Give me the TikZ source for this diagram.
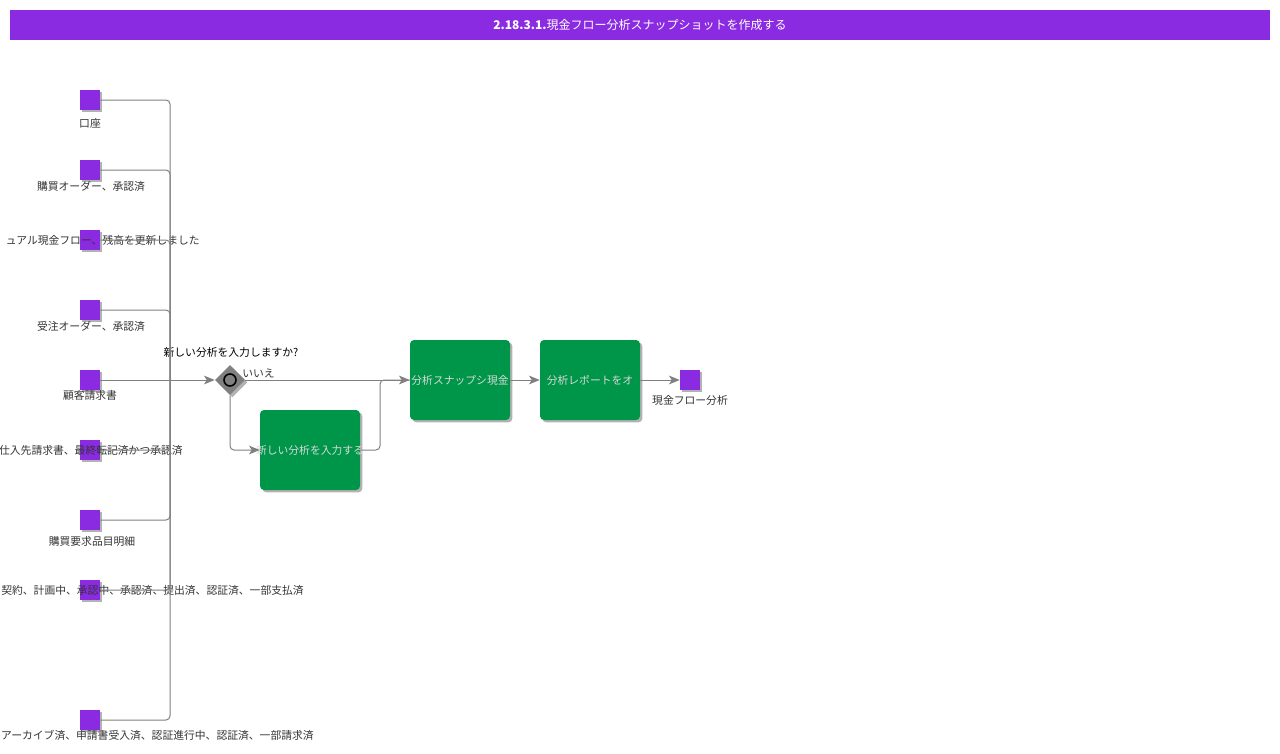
\documentclass[tikz,border=0pt]{standalone}
\usepackage{fontspec}
\setmainfont{Noto Sans CJK JP}
\usetikzlibrary{shapes.geometric,arrows.meta,shadows}
\definecolor{purp}{HTML}{8A2BE2}
\definecolor{tgreen}{HTML}{00964A}
\definecolor{lbl}{HTML}{333333}
\definecolor{lin}{HTML}{808080}
\tikzset{
  shad/.style={drop shadow={shadow xshift=1.8pt,shadow yshift=-1.8pt,opacity=0.3,fill=black}},
  dataobj/.style={rectangle,fill=purp,minimum width=15pt,minimum height=15pt,inner sep=0pt,shad},
  lab/.style={font=\fontsize{8.1pt}{9pt}\selectfont,text=lbl,inner sep=0pt},
  taskbox/.style={rectangle,rounded corners=3pt,fill=tgreen,minimum width=75pt,minimum height=60pt,inner sep=0pt,shad},
  tasktext/.style={font=\fontsize{8.1pt}{9pt}\selectfont,text=white!85!black,inner sep=0pt},
  conn/.style={draw=lin,line width=0.75pt,rounded corners=3pt},
  arr/.style={conn,-{Stealth[length=8pt,width=6.5pt,inset=2pt]}},
}
\begin{document}
\begin{tikzpicture}[x=0.75pt,y=-0.75pt]
\useasboundingbox (0,0) rectangle (1280,753);
% title
\node[fill=purp,minimum width=945pt,minimum height=22.5pt,inner sep=0pt,text=white,
  font=\fontsize{9pt}{11pt}\selectfont] (title) at (640,25) {\textbf{2.18.3.1.}現金フロー分析スナップショットを作成する};
% data objects
\node[dataobj] (s1) at (90,100) {};
\node[dataobj] (s2) at (90,170) {};
\node[dataobj] (s3) at (90,240) {};
\node[dataobj] (s4) at (90,310) {};
\node[dataobj] (s5) at (90,380) {};
\node[dataobj] (s6) at (90,450) {};
\node[dataobj] (s7) at (90,520) {};
\node[dataobj] (s8) at (90,590) {};
\node[dataobj] (s9) at (90,720) {};
\node[lab] (l1) at (90,123) {口座};
\node[lab] (l2) at (91,186) {購買オーダー、承認済};
\node[lab,anchor=east] (l3) at (200,240) {ュアル現金フロー、残高を更新しました};
\node[lab] (l4) at (91,326) {受注オーダー、承認済};
\node[lab] (l5) at (90,395) {顧客請求書};
\node[lab,anchor=east] (l6) at (183,450) {仕入先請求書、最終転記済かつ承認済};
\node[lab] (l7) at (92,541) {購買要求品目明細};
\node[lab,anchor=east] (l8) at (304,590) {契約、計画中、承認中、承認済、提出済、認証済、一部支払済};
\node[lab,anchor=east] (l9) at (314,735) {アーカイブ済、申請書受入済、認証進行中、認証済、一部請求済};
% gateway
\node[diamond,fill=gray,minimum width=22.5pt,minimum height=22.5pt,inner sep=0pt,shad] (g) at (230,380) {};
\node[circle,draw=black,line width=1.2pt,minimum size=9pt,inner sep=0pt] (gc) at (g) {};
\node[lab,text=black] (gq) at (231,352) {新しい分析を入力しますか?};
\node[lab,anchor=west] (gno) at (242,373) {いいえ};
% tasks
\node[taskbox] (t1) at (460,380) {};
\node[tasktext] (t1t) at (t1) {分析スナップシ現金};
\node[taskbox] (t2) at (590,380) {};
\node[tasktext] (t2t) at (t2) {分析レポートをオ};
\node[taskbox] (t3) at (310,450) {};
\node[tasktext] (t3t) at (t3) {新しい分析を入力する};
\node[dataobj] (e) at (690,380) {};
\node[lab] (le) at (690,400) {現金フロー分析};
% connectors
\coordinate (j) at (170,380);
\coordinate (m) at (380,380);
\foreach \s in {s1,s2,s3,s4,s6,s7,s8,s9}{
  \draw[conn] (\s.east) -| (j);
}
\draw[arr] (s5.east) -- (g.west);
\draw[arr] (g.east) -- (t1.west);
\draw[arr] (g.south) |- (t3.west);
\draw[conn] (t3.east) -| (m) -- (t1.west);
\draw[arr] (t1.east) -- (t2.west);
\draw[arr] (t2.east) -- (e.west);
\end{tikzpicture}
\end{document}
